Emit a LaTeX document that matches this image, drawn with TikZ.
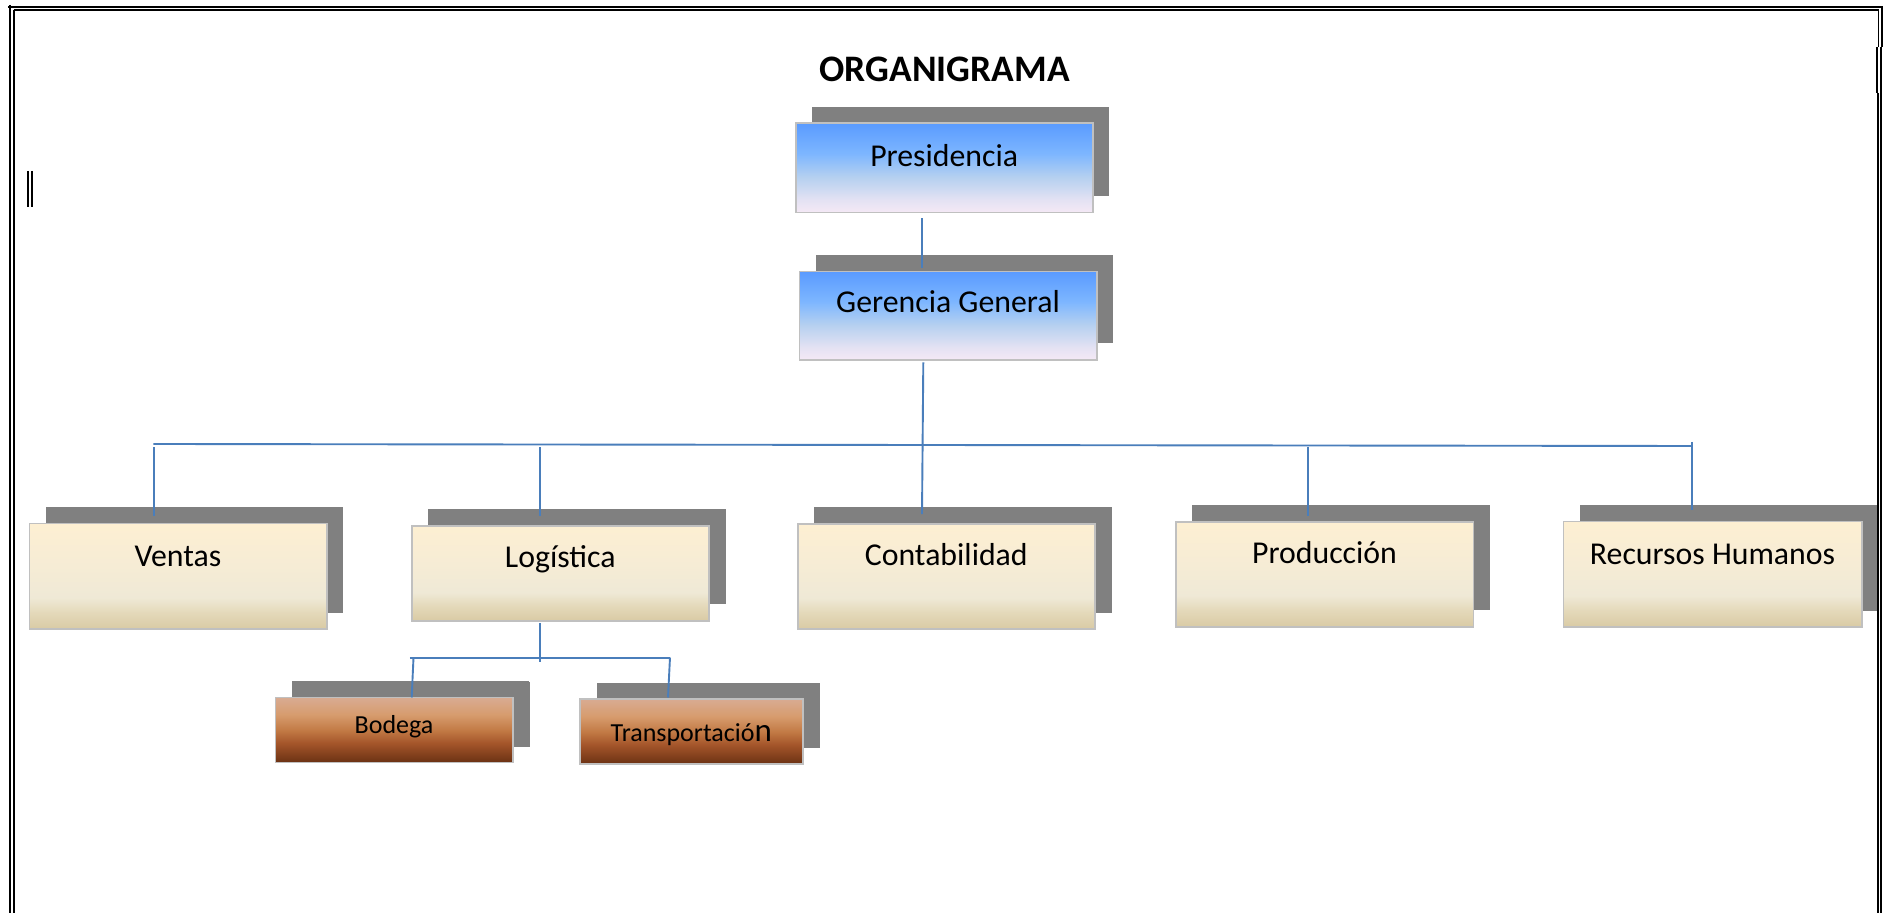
\documentclass[tikz,border=0pt]{standalone}
\usepackage{fontspec}
\setmainfont{Carlito}
\usetikzlibrary{fit,shadows,calc}
\definecolor{connc}{HTML}{4A7EBB}
\definecolor{shgray}{HTML}{808080}
\definecolor{bordc}{HTML}{C0C0C0}
\definecolor{blA}{HTML}{F5E9F5}
\definecolor{blB}{HTML}{E4E2F3}
\definecolor{blC}{HTML}{B5D0F0}
\definecolor{blD}{HTML}{7DB6FF}
\definecolor{blE}{HTML}{5A9BFF}
\definecolor{tnA}{HTML}{D9CAA4}
\definecolor{tnB}{HTML}{E4D9BA}
\definecolor{tnC}{HTML}{EFE9D6}
\definecolor{tnD}{HTML}{F6ECD5}
\definecolor{tnE}{HTML}{FDEFD2}
\definecolor{brA}{HTML}{6A3113}
\definecolor{brB}{HTML}{A4552A}
\definecolor{brC}{HTML}{C27A45}
\definecolor{brD}{HTML}{D79C6E}
\definecolor{brE}{HTML}{D8AB92}
\pgfdeclareverticalshading{blueshade}{100bp}{color(0bp)=(blA); color(25bp)=(blA); color(32bp)=(blB); color(45bp)=(blC); color(58bp)=(blD); color(75bp)=(blE); color(100bp)=(blE)}
\pgfdeclareverticalshading{tanshade}{100bp}{color(0bp)=(tnA); color(25bp)=(tnA); color(33bp)=(tnB); color(40bp)=(tnC); color(55bp)=(tnD); color(75bp)=(tnE); color(100bp)=(tnE)}
\pgfdeclareverticalshading{brownshade}{100bp}{color(0bp)=(brA); color(25bp)=(brA); color(40bp)=(brB); color(50bp)=(brC); color(62bp)=(brD); color(75bp)=(brE); color(100bp)=(brE)}
\begin{document}
\begin{tikzpicture}[x=0.5pt,y=-0.5pt,
  boxbase/.style={inner sep=0pt, draw=bordc, line width=0.8pt,
    general shadow={fill=shgray, draw=none, shadow xshift=8.25pt, shadow yshift=8.25pt}},
  lvlone/.style={boxbase, shading=blueshade},
  lvltwo/.style={boxbase, shading=tanshade},
  lvlthree/.style={boxbase, shading=brownshade,
    general shadow={fill=shgray, draw=none, shadow xshift=8.5pt, shadow yshift=7.9pt}},
  conn/.style={draw=connc, line width=0.95pt},
  bd/.style={draw=black, line width=0.85pt},
  txt/.style={anchor=base, inner sep=0pt, font=\fontsize{15.9}{18}\selectfont},
  smalltxt/.style={anchor=base, inner sep=0pt, font=\fontsize{13}{15}\selectfont},
  titletxt/.style={anchor=base, inner sep=0pt, font=\bfseries\fontsize{18.7}{21}\selectfont}
]
\useasboundingbox (0,0) rectangle (1890,913);
\fill[white] (0,0) rectangle (1890,913);

% boxes
\node[lvlone, fit={(795.7,123.3) (1092.7,212.7)}] (pres) {};
\node[lvlone, fit={(799.3,271.7) (1096.7,360)}] (ger) {};
\node[lvltwo, fit={(29.3,523.7) (326.7,629.3)}] (ventas) {};
\node[lvltwo, fit={(411.7,526) (709,621)}] (log) {};
\node[lvltwo, fit={(797.7,524) (1095,629.3)}] (cont) {};
\node[lvltwo, fit={(1175.7,522) (1473.3,627)}] (prod) {};
\node[lvltwo, fit={(1563.3,521.7) (1861.7,627.3)}] (rrhh) {};
\node[lvlthree, fit={(275.5,697.7) (512.7,762.7)}] (bod) {};
\node[lvlthree, fit={(580,699.3) (802.7,764.3)}] (trans) {};

% texts
\node[titletxt] (title) at (944.7,81.7) {ORGANIGRAMA};
\node[txt] (presT) at (944.2,166.7) {Presidencia};
\node[txt] (gerT) at (948,312.7) {Gerencia General};
\node[txt] (ventasT) at (178,566.7) {Ventas};
\node[txt] (logT) at (560.3,567.3) {Logística};
\node[txt] (contT) at (946.3,566) {Contabilidad};
\node[txt] (prodT) at (1324.5,564) {Producción};
\node[txt] (rrhhT) at (1712.5,565) {Recursos Humanos};
\node[smalltxt] (bodT) at (394,733.3) {Bodega};
\node[smalltxt] (transT) at (691.3,741.7) {Transportació{\fontsize{16.5}{18}\selectfont n}};

% connectors
\coordinate (busL) at (153.3,444);
\coordinate (busR) at (1692.3,446);
\coordinate (subL) at (409.8,658.3);
\coordinate (subR) at (670,658.3);
\draw[conn] ($(pres.south)+(-21.9,5)$) -- ($(ger.north)+(-25.7,-2.7)$);
\draw[conn] ($(ger.south)+(-24.7,1.6)$) -- ($(cont.north)+(-24.35,-9)$);
\draw[conn] (busL) -- (busR);
\draw[conn] ($(ventas.north)+(-24.3,-75.7)$) -- ($(ventas.north)+(-24.3,-7)$);
\draw[conn] ($(log.north)+(-20.35,-77.7)$) -- ($(log.north)+(-20.35,-9.3)$);
\draw[conn] ($(prod.north)+(-16.2,-73.7)$) -- ($(prod.north)+(-16.2,-4.7)$);
\draw[conn] ($(rrhh.north)+(-20.5,-79)$) -- ($(rrhh.north)+(-20.5,-11)$);
\draw[conn] ($(log.south)+(-20.35,1)$) -- ($(log.south)+(-20.35,40.7)$);
\draw[conn] (subL) -- (subR);
\draw[conn] ($(bod.north)+(19.4,-39.4)$) -- ($(bod.north)+(17.6,0.6)$);
\draw[conn] ($(trans.north)+(-21.35,-41)$) -- ($(trans.north)+(-23.35,-1)$);

% page border
\draw[bd] (8,6.7) -- (1882.8,6.7);
\draw[bd] (10.2,5) -- (10.2,913);
\draw[bd] (13.7,10.2) -- (1878.5,10.2);
\draw[bd] (13.7,10.2) -- (13.7,913);
\draw[bd] (1882,6.7) -- (1882,47);
\draw[bd] (1881,47) -- (1881,93);
\draw[bd] (1881.2,93) -- (1881.2,913);
\draw[bd] (1878.5,10.2) -- (1878.5,47);
\draw[bd] (1877,47) -- (1877,93);
\draw[bd] (1877.7,93) -- (1877.7,913);
\draw[bd] (27.7,171) -- (27.7,207);
\draw[bd] (31.8,171) -- (31.8,207);
\end{tikzpicture}
\end{document}
